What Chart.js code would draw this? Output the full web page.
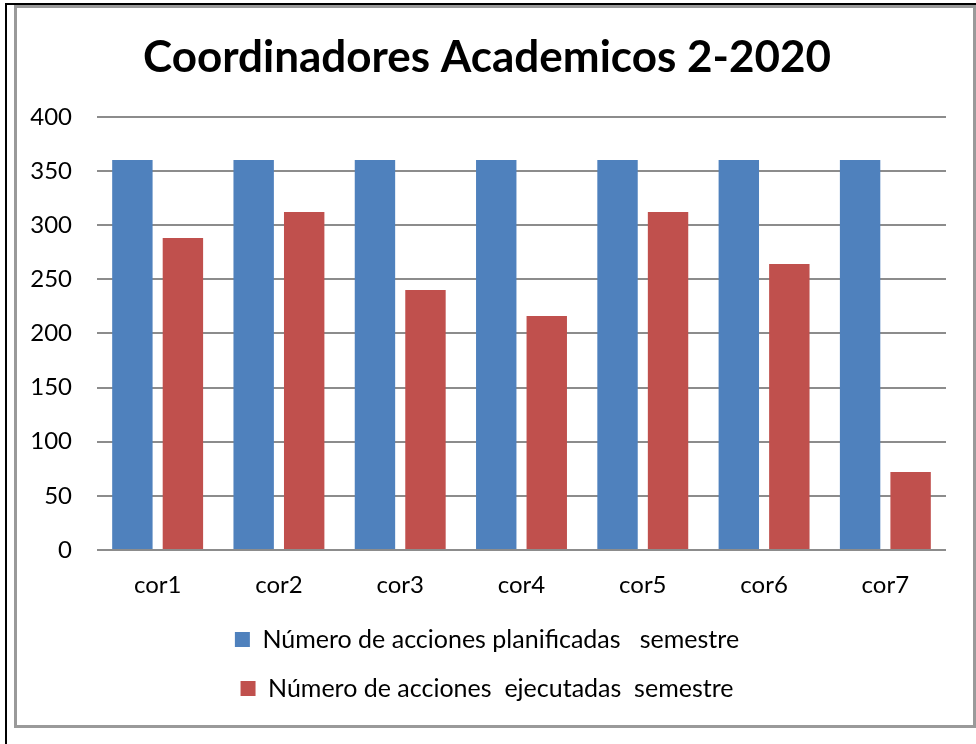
<!DOCTYPE html>
<html>
<head>
<meta charset="utf-8">
<script src="https://cdn.jsdelivr.net/npm/chart.js@4/dist/chart.umd.min.js"></script>
<style>
  body { margin: 0; background: #fff; }
  #wrap { position: relative; width: 976px; height: 744px; overflow: hidden; }
  #outer { position: absolute; left: 5px; top: 3px; width: 980px; height: 760px;
           border-left: 2px solid #000; border-top: 2px solid #000; }
  #inner { position: absolute; left: 14px; top: 5px; width: 956px; height: 717px;
           border: 3px solid #9a9a9a; }
  #chart { position: absolute; left: 0; top: 0; }
</style>
</head>
<body>
<div id="wrap">
  <div id="outer"></div>
  <div id="inner"></div>
  <canvas id="chart" width="976" height="744"></canvas>
</div>
<script>
// datos del gráfico
const categorias = ['cor1', 'cor2', 'cor3', 'cor4', 'cor5', 'cor6', 'cor7'];
const planificadas = [360, 360, 360, 360, 360, 360, 360];
const ejecutadas = [288, 312, 240, 216, 312, 264, 72];
const etiquetas = ['Número de acciones planificadas   semestre', 'Número de acciones  ejecutadas  semestre'];
const titulo = 'Coordinadores Academicos 2-2020';

const fuente = 'Lato, "Open Sans", sans-serif';

new Chart(document.getElementById('chart'), {
    type: 'bar',
    data: {
        labels: categorias,
        datasets: [{
            label: etiquetas[0],
            data: planificadas,
            backgroundColor: '#4f81bd'
        }, {
            label: etiquetas[1],
            data: ejecutadas,
            backgroundColor: '#c0504d'
        }]
    },
    options: {
        responsive: false,
        animation: false,
        categoryPercentage: 0.833,
        barPercentage: 0.8,
        layout: { padding: { left: 28, right: 30, top: 0, bottom: 33 } },
        scales: {
            y: {
                min: 0,
                max: 400,
                ticks: { stepSize: 50, padding: 25, color: '#000', font: { family: fuente, size: 24 } },
                grid: { color: '#8c8c8c', lineWidth: 2, drawTicks: false },
                border: { display: false },
                afterFit: function(scale) { scale.width = 69; }
            },
            x: {
                ticks: { padding: 21, color: '#000', font: { family: fuente, size: 24 } },
                grid: { display: false, drawTicks: false },
                border: { display: false },
                afterFit: function(scale) { scale.height = 53; }
            }
        },
        plugins: {
            title: {
                display: true,
                text: titulo,
                color: '#000',
                font: { family: fuente, size: 44, weight: 'bold', lineHeight: 1.2 },
                padding: { top: 31, bottom: 33 }
            },
            legend: {
                position: 'bottom',
                labels: {
                    color: '#000',
                    boxWidth: 15,
                    boxHeight: 15,
                    padding: 24,
                    font: { family: fuente, size: 25 }
                }
            },
            tooltip: { enabled: false }
        }
    }
});
</script>
</body>
</html>
